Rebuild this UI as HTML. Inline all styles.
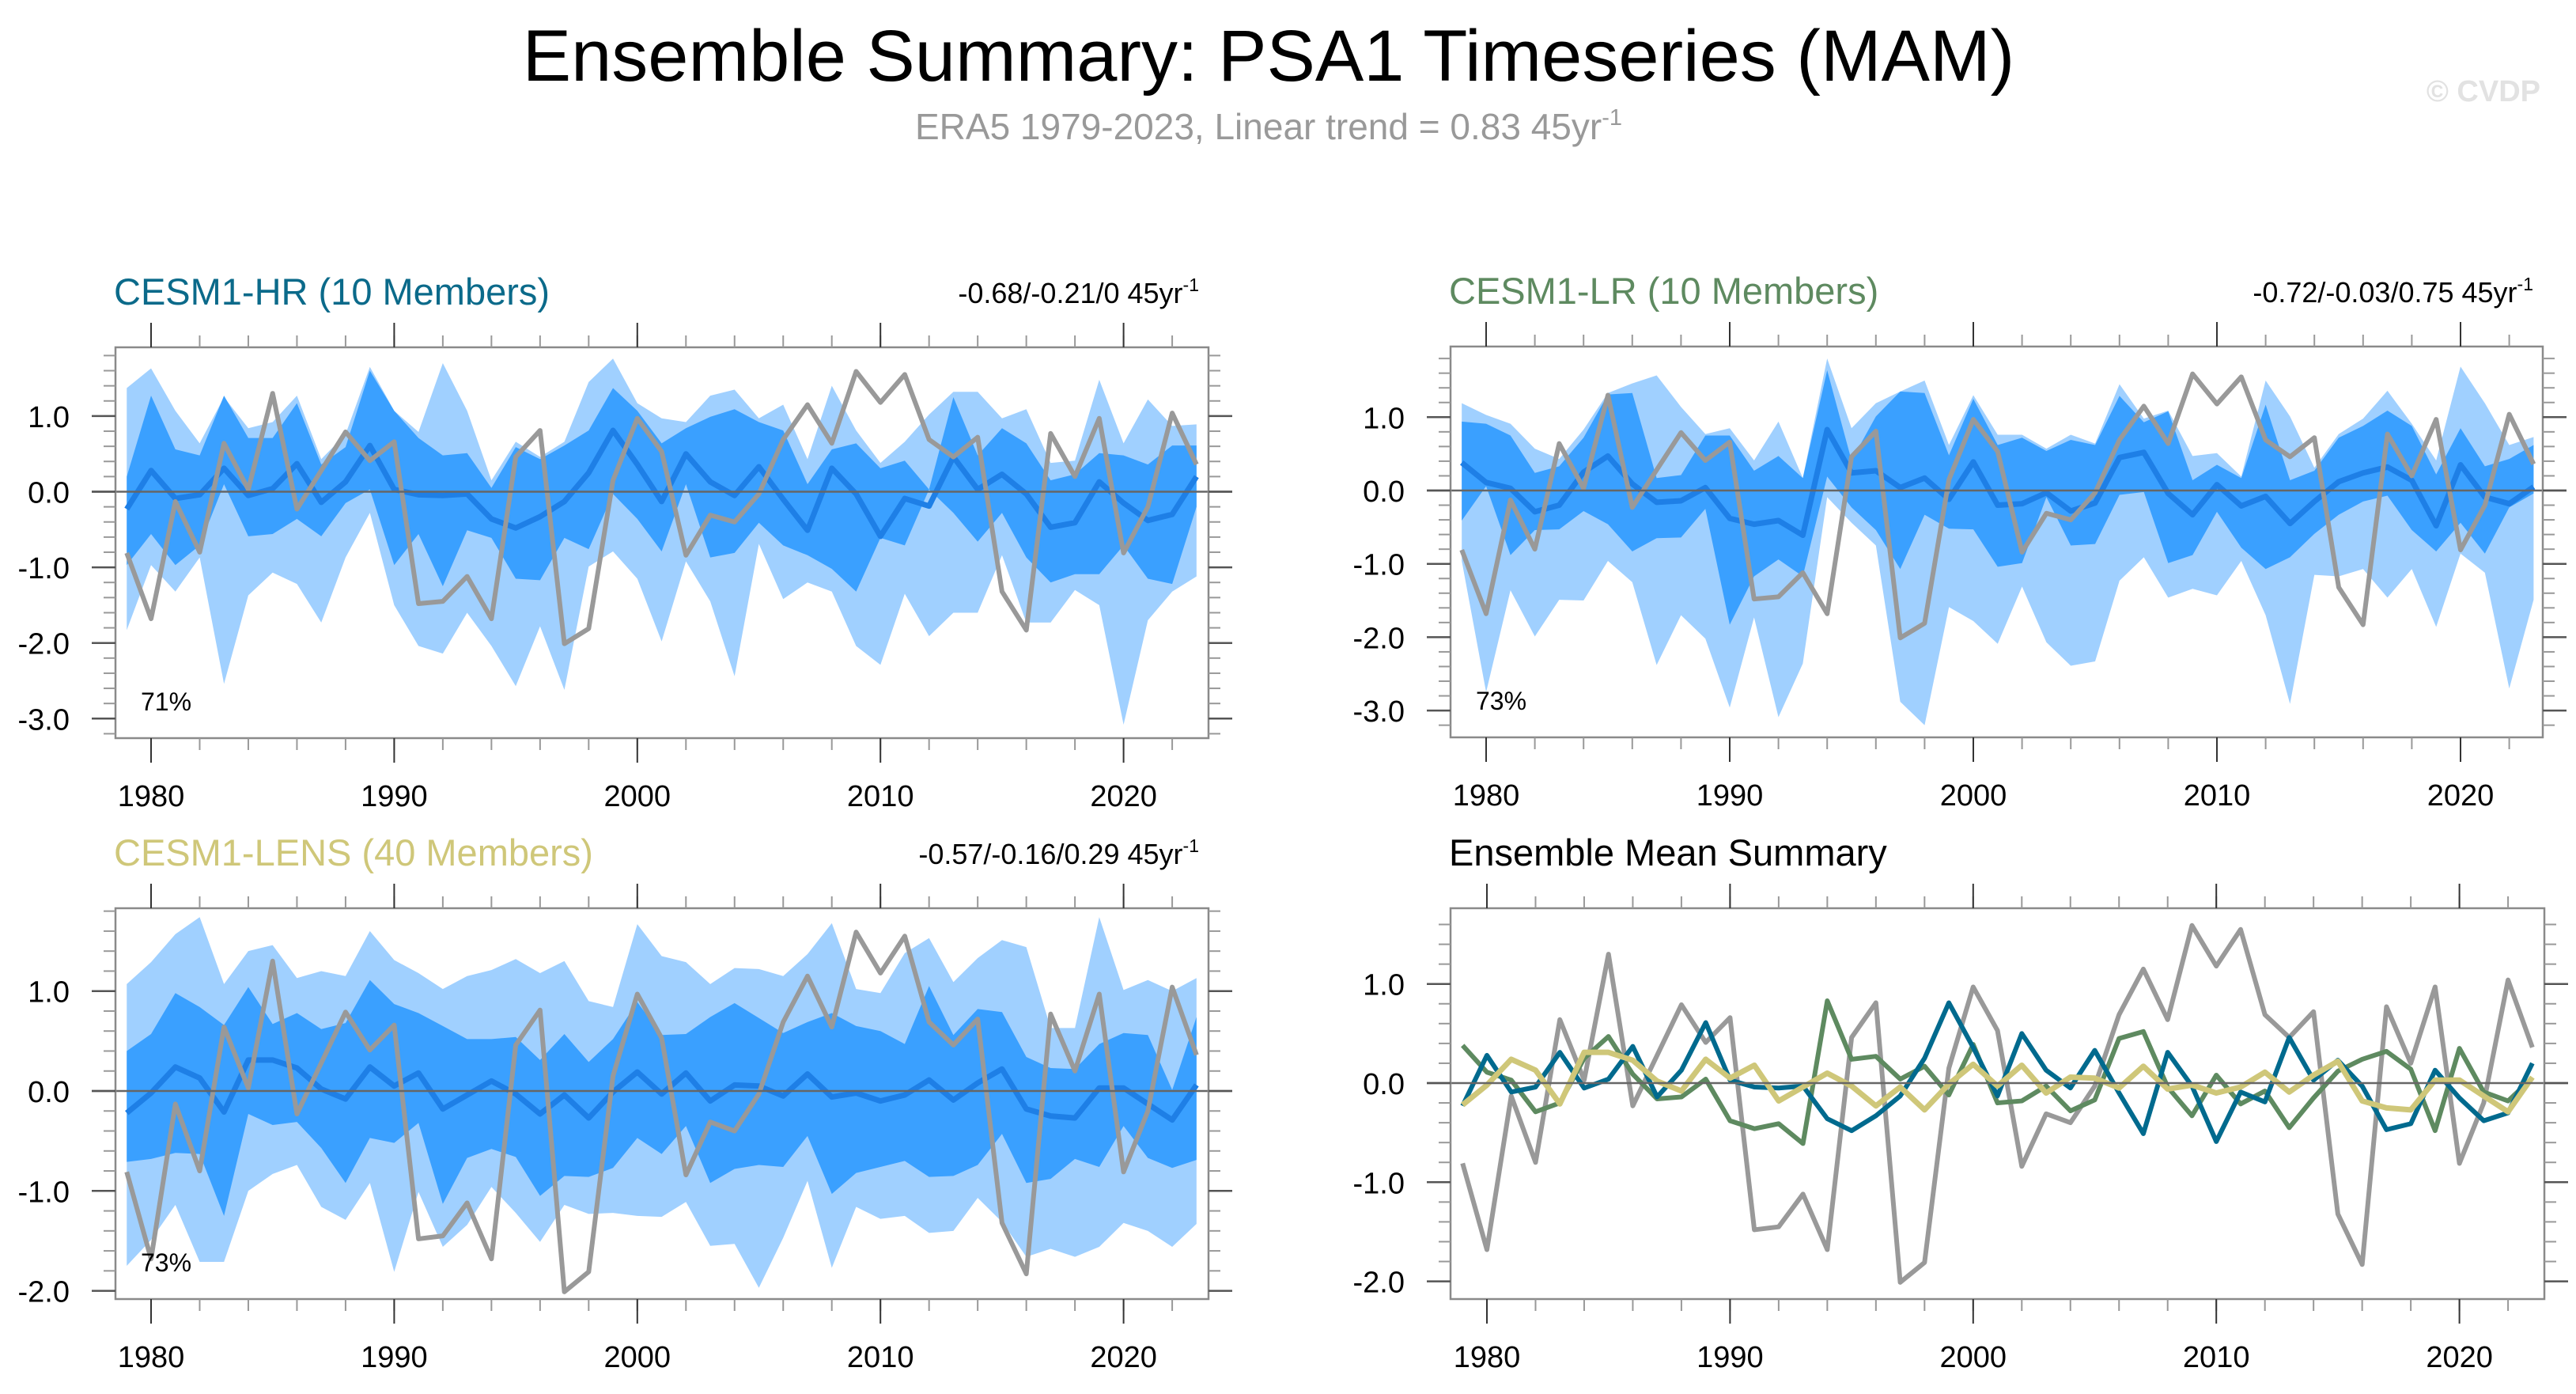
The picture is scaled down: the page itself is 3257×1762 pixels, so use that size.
<!DOCTYPE html>
<html><head><meta charset="utf-8"><style>
html,body{margin:0;padding:0;background:#fff;}
svg{display:block;font-family:"Liberation Sans",sans-serif;}
</style></head><body>
<svg id="chart" width="3257" height="1762" viewBox="0 0 3257 1762" xmlns="http://www.w3.org/2000/svg">
<text x="1604" y="102" font-size="92" text-anchor="middle" fill="#000">Ensemble Summary: PSA1 Timeseries (MAM)</text>
<text x="1604" y="176" font-size="46" text-anchor="middle" fill="#999">ERA5 1979-2023, Linear trend = 0.83 45yr<tspan dy="-18" font-size="29">-1</tspan></text>
<text x="3212" y="128" font-size="38" font-weight="bold" text-anchor="end" fill="#e2e2e2">© CVDP</text>
<g id="plots"></g>
</svg>
<script>
const years = [];
for (let y = 1979; y <= 2023; y++) years.push(y);
const era5 = [-0.81,-1.68,-0.13,-0.80,0.64,0.03,1.30,-0.23,0.28,0.79,0.41,0.66,-1.48,-1.45,-1.12,-1.68,0.46,0.81,-2.01,-1.81,0.15,0.97,0.53,-0.84,-0.31,-0.40,-0.03,0.69,1.15,0.64,1.59,1.18,1.55,0.69,0.46,0.72,-1.32,-1.83,0.77,0.20,0.97,-0.81,-0.20,1.04,0.36];

const hrMean = [-0.23,0.28,-0.09,-0.04,0.31,-0.05,0.04,0.37,-0.14,0.13,0.61,0.03,-0.04,-0.05,-0.03,-0.36,-0.48,-0.33,-0.13,0.25,0.81,0.36,-0.13,0.50,0.13,-0.05,0.33,-0.10,-0.51,0.31,-0.03,-0.59,-0.09,-0.19,0.46,0.03,0.23,-0.03,-0.47,-0.41,0.13,-0.15,-0.38,-0.30,0.20];
const hrOutTop = [1.37,1.63,1.07,0.64,1.25,0.84,0.92,1.27,0.43,0.76,1.65,1.07,0.79,1.70,1.07,0.15,0.66,0.46,0.66,1.45,1.76,1.17,0.97,0.92,1.27,1.35,0.97,1.15,0.43,1.40,0.81,0.38,0.66,1.02,1.32,1.32,0.97,1.09,0.38,0.41,1.48,0.64,1.22,0.87,0.89];
const hrOutBot = [-1.83,-0.97,-1.32,-0.87,-2.54,-1.37,-1.07,-1.22,-1.73,-0.87,-0.28,-1.50,-2.04,-2.14,-1.60,-2.04,-2.57,-1.78,-2.62,-0.99,-0.79,-1.15,-1.98,-0.92,-1.45,-2.44,-0.69,-1.42,-1.20,-1.32,-2.04,-2.29,-1.35,-1.91,-1.60,-1.60,-0.84,-1.73,-1.73,-1.30,-1.50,-3.08,-1.70,-1.32,-1.12];
const hrInTop = [0.20,1.27,0.56,0.48,1.27,0.71,0.71,1.17,0.36,0.59,1.60,1.07,0.71,0.48,0.51,0.05,0.59,0.43,0.61,0.81,1.37,1.07,0.64,0.84,0.99,1.09,0.92,0.81,0.10,0.56,0.64,0.31,0.41,0.03,1.25,0.48,0.84,0.64,0.15,0.23,0.51,0.48,0.36,0.61,0.61];
const hrInBot = [-0.97,-0.56,-0.97,-0.71,0.10,-0.59,-0.56,-0.36,-0.59,-0.15,0.03,-0.97,-0.56,-1.25,-0.51,-0.61,-1.15,-1.17,-0.61,-0.76,-0.03,-0.36,-0.79,0.10,-0.87,-0.81,-0.41,-0.71,-0.84,-1.02,-1.32,-0.61,-0.71,0.03,-0.28,-0.66,-0.28,-0.87,-1.20,-1.09,-1.09,-0.71,-1.15,-1.22,-0.20];

const lrMean = [0.38,0.11,0.03,-0.29,-0.20,0.25,0.47,0.09,-0.16,-0.14,0.04,-0.38,-0.46,-0.41,-0.61,0.83,0.24,0.27,0.04,0.17,-0.12,0.39,-0.20,-0.18,-0.03,-0.28,-0.17,0.45,0.52,-0.04,-0.33,0.08,-0.21,-0.08,-0.45,-0.15,0.12,0.24,0.32,0.14,-0.48,0.35,-0.09,-0.18,0.05];
const lrOutTop = [1.19,1.03,0.91,0.57,0.43,0.83,1.33,1.46,1.57,1.14,0.77,0.85,0.41,0.94,0.17,1.80,0.85,1.19,1.35,1.50,0.62,1.30,0.76,0.76,0.57,0.76,0.64,1.45,0.98,1.09,0.47,0.51,0.19,1.50,1.01,0.31,0.77,0.98,1.36,0.91,0.41,1.69,1.19,0.62,0.73];
const lrOutBot = [-0.96,-2.75,-1.36,-1.99,-1.49,-1.50,-0.96,-1.25,-2.38,-1.70,-2.02,-2.96,-1.73,-3.09,-2.36,-0.09,-0.44,-0.75,-2.88,-3.20,-1.59,-1.78,-2.09,-1.31,-2.07,-2.39,-2.33,-1.23,-0.91,-1.46,-1.34,-1.43,-0.96,-1.70,-2.91,-1.15,-1.17,-1.07,-1.46,-1.07,-1.86,-0.86,-1.12,-2.70,-1.49];
const lrInTop = [0.94,0.91,0.75,0.24,0.33,0.72,1.31,1.33,0.17,0.21,0.75,0.75,0.27,0.47,0.17,1.64,0.41,1.01,1.35,1.33,0.48,1.25,0.62,0.72,0.54,0.69,0.62,1.29,0.93,1.08,0.14,0.35,0.17,1.17,0.14,0.27,0.72,0.88,1.09,0.88,0.22,0.85,0.33,0.43,0.62];
const lrInBot = [-0.41,0.06,-0.88,-0.54,-0.53,-0.28,-0.46,-0.83,-0.65,-0.64,-0.25,-1.83,-1.17,-0.94,-1.17,0.19,-0.23,-0.54,-1.07,-0.33,-0.52,-0.53,-1.04,-0.99,-0.09,-0.75,-0.73,-0.06,-0.02,-0.99,-0.88,-0.29,-0.78,-1.07,-0.91,-0.59,-0.33,-0.15,-0.07,-0.54,-0.83,-0.44,-0.86,-0.23,-0.04];

const lensMean = [-0.22,-0.02,0.24,0.13,-0.21,0.31,0.31,0.23,0.02,-0.08,0.24,0.05,0.18,-0.18,-0.04,0.10,-0.03,-0.23,-0.04,-0.27,-0.01,0.19,-0.03,0.18,-0.10,0.06,0.05,-0.05,0.17,-0.06,-0.02,-0.10,-0.04,0.11,-0.09,0.08,0.22,-0.18,-0.25,-0.27,0.03,0.03,-0.13,-0.29,0.06];
const lensOutTop = [1.07,1.29,1.57,1.74,1.07,1.40,1.46,1.13,1.20,1.15,1.60,1.31,1.18,1.02,1.15,1.21,1.32,1.18,1.30,0.90,0.84,1.67,1.35,1.29,1.07,1.23,1.22,1.15,1.37,1.68,1.02,0.98,1.38,1.53,1.09,1.33,1.51,1.44,0.63,0.63,1.74,1.01,1.11,1.00,1.13];
const lensOutBot = [-1.75,-1.49,-1.14,-1.71,-1.71,-1.00,-0.83,-0.74,-1.16,-1.29,-0.92,-1.81,-1.01,-1.56,-1.34,-0.96,-1.22,-1.51,-1.14,-1.23,-1.22,-1.25,-1.26,-1.11,-1.55,-1.53,-1.97,-1.47,-0.90,-1.77,-1.16,-1.28,-1.25,-1.42,-1.40,-1.07,-1.31,-1.66,-1.58,-1.66,-1.56,-1.32,-1.40,-1.56,-1.33];
const lensInTop = [0.40,0.57,0.98,0.84,0.66,1.04,0.67,0.78,0.62,0.68,1.11,0.87,0.78,0.65,0.52,0.52,0.54,0.31,0.57,0.29,0.52,0.89,0.56,0.57,0.74,0.88,0.73,0.58,0.69,0.78,0.65,0.60,0.47,1.05,0.56,0.82,0.79,0.34,0.23,0.22,0.47,0.58,0.56,0.01,0.74];
const lensInBot = [-0.71,-0.68,-0.62,-0.63,-1.25,-0.23,-0.34,-0.31,-0.57,-0.92,-0.47,-0.52,-0.32,-1.13,-0.67,-0.58,-0.66,-1.05,-0.85,-0.86,-0.77,-0.47,-0.63,-0.35,-0.92,-0.78,-0.74,-0.76,-0.45,-1.03,-0.82,-0.76,-0.70,-0.86,-0.85,-0.74,-0.43,-0.92,-0.88,-0.68,-0.76,-0.35,-0.67,-0.77,-0.69];

const yTicks1 = [1.0, 0.0, -1.0, -2.0, -3.0];
const yTicks2 = [1.0, 0.0, -1.0, -2.0];
const xTicks = [1980, 1990, 2000, 2010, 2020];

const NS = 'http://www.w3.org/2000/svg';
const root = document.getElementById('plots');
function mk(tag, attrs, parent) {
  const e = document.createElementNS(NS, tag);
  for (const k in attrs) e.setAttribute(k, attrs[k]);
  (parent || root).appendChild(e);
  return e;
}

function panel(cfg) {
  const g = mk('g', {});
  
  
  const xs = yr => cfg.x1980 + (yr - 1980) * cfg.pxYear;
  const ys = v => cfg.y0 - v * cfg.pxUnit;
  const L = cfg.left, R = cfg.right, T = cfg.top, B = cfg.bottom;
  const vTop = (cfg.y0 - T) / cfg.pxUnit, vBot = (cfg.y0 - B) / cfg.pxUnit;

  const t = mk('text', {x: L - 2, y: T - 54, 'font-size': 47, fill: cfg.titleColor}, g);
  t.textContent = cfg.title;
  
  
  if (cfg.trend) {
    const tr = mk('text', {x: R - 12, y: T - 56, 'font-size': 36, 'text-anchor': 'end', fill: '#000'}, g);
    tr.textContent = cfg.trend + ' 45yr';
    const sp = mk('tspan', {dy: -15, 'font-size': 23}, tr);
    sp.textContent = '-1';
    
    
  }
  const cid = 'clip-' + cfg.name;
  const cp = mk('clipPath', {id: cid}, g);
  mk('rect', {x: L, y: T, width: R - L, height: B - T}, cp);
  const plot = mk('g', {'clip-path': 'url(#' + cid + ')'}, g);

  function band(top, bot, color, name) {
    let pts = years.map((yr, i) => xs(yr) + ',' + ys(top[i]));
    for (let i = years.length - 1; i >= 0; i--) pts.push(xs(years[i]) + ',' + ys(bot[i]));
    const p = mk('polygon', {points: pts.join(' '), fill: color}, plot);
    
    
  }
  function line(vals, color, w, name) {
    const pts = years.map((yr, i) => xs(yr) + ',' + ys(vals[i])).join(' ');
    const p = mk('polyline', {points: pts, fill: 'none', stroke: color, 'stroke-width': w, 'stroke-linejoin': 'round'}, plot);
    
    
  }
  if (cfg.bands) {
    band(cfg.bands.outTop, cfg.bands.outBot, '#a0d0ff', 'outer-spread-band');
    band(cfg.bands.inTop, cfg.bands.inBot, '#3aa0ff', 'inner-spread-band');
  }
  const z = mk('line', {x1: L - 30, x2: R + 30, y1: ys(0), y2: ys(0), stroke: '#666', 'stroke-width': 2.5}, g);
  
  
  cfg.lines.forEach(l => line(l.vals, l.color, l.w, l.name));

  const f = mk('rect', {x: L, y: T, width: R - L, height: B - T, fill: 'none', stroke: '#8a8a8a', 'stroke-width': 2.5}, g);
  
  

  for (let v = Math.ceil(vBot * 5) / 5; v <= vTop + 1e-6; v += 0.2) {
    const y = ys(v);
    mk('line', {x1: L - 15, x2: L, y1: y, y2: y, stroke: '#999', 'stroke-width': 2}, g);
    mk('line', {x1: R, x2: R + 15, y1: y, y2: y, stroke: '#999', 'stroke-width': 2}, g);
  }
  cfg.yTicks.forEach(v => {
    const y = ys(v);
    mk('line', {x1: L - 30, x2: L, y1: y, y2: y, stroke: '#555', 'stroke-width': 2.5}, g);
    mk('line', {x1: R, x2: R + 30, y1: y, y2: y, stroke: '#555', 'stroke-width': 2.5}, g);
    const lb = mk('text', {x: L - 58, y: y + 14, 'font-size': 38, 'text-anchor': 'end', fill: '#000'}, g);
    lb.textContent = v.toFixed(1);
    
    
  });
  for (let yr = 1978; yr <= 2023; yr += 2) {
    const x = xs(yr);
    if (x < L || x > R) continue;
    mk('line', {x1: x, x2: x, y1: T - 15, y2: T, stroke: '#999', 'stroke-width': 2}, g);
    mk('line', {x1: x, x2: x, y1: B, y2: B + 15, stroke: '#999', 'stroke-width': 2}, g);
  }
  xTicks.forEach(yr => {
    const x = xs(yr);
    mk('line', {x1: x, x2: x, y1: T - 31, y2: T, stroke: '#333', 'stroke-width': 2}, g);
    mk('line', {x1: x, x2: x, y1: B, y2: B + 31, stroke: '#333', 'stroke-width': 2}, g);
    const lb = mk('text', {x: x, y: B + 86, 'font-size': 38, 'text-anchor': 'middle', fill: '#000'}, g);
    lb.textContent = yr;
    
    
  });
  if (cfg.pct) {
    const p = mk('text', {x: L + 32, y: B - 35, 'font-size': 32, fill: '#000'}, g);
    p.textContent = cfg.pct;
    
    
  }
}

panel({name: 'cesm1-hr-panel', title: 'CESM1-HR (10 Members)', titleColor: '#0b6a8a', trend: '-0.68/-0.21/0',
  left: 146, right: 1528, top: 439, bottom: 933, x1980: 191, pxYear: 30.74, y0: 621.5, pxUnit: 95.6,
  yTicks: yTicks1, pct: '71%',
  bands: {outTop: hrOutTop, outBot: hrOutBot, inTop: hrInTop, inBot: hrInBot},
  lines: [{vals: hrMean, color: '#1e7fe6', w: 7, name: 'ensemble-mean-line'}, {vals: era5, color: '#999', w: 6, name: 'era5-line'}]});

panel({name: 'cesm1-lr-panel', title: 'CESM1-LR (10 Members)', titleColor: '#5e8a60', trend: '-0.72/-0.03/0.75',
  left: 1834, right: 3215, top: 438, bottom: 932, x1980: 1879, pxYear: 30.8, y0: 620, pxUnit: 92.7,
  yTicks: yTicks1, pct: '73%',
  bands: {outTop: lrOutTop, outBot: lrOutBot, inTop: lrInTop, inBot: lrInBot},
  lines: [{vals: lrMean, color: '#1e7fe6', w: 7, name: 'ensemble-mean-line'}, {vals: era5, color: '#999', w: 6, name: 'era5-line'}]});

panel({name: 'cesm1-lens-panel', title: 'CESM1-LENS (40 Members)', titleColor: '#cfc779', trend: '-0.57/-0.16/0.29',
  left: 146, right: 1528, top: 1148, bottom: 1642, x1980: 191, pxYear: 30.74, y0: 1379, pxUnit: 126.3,
  yTicks: yTicks2, pct: '73%',
  bands: {outTop: lensOutTop, outBot: lensOutBot, inTop: lensInTop, inBot: lensInBot},
  lines: [{vals: lensMean, color: '#1e7fe6', w: 7, name: 'ensemble-mean-line'}, {vals: era5, color: '#999', w: 6, name: 'era5-line'}]});

panel({name: 'ensemble-mean-summary-panel', title: 'Ensemble Mean Summary', titleColor: '#000', trend: null,
  left: 1834, right: 3217, top: 1148, bottom: 1642, x1980: 1880, pxYear: 30.74, y0: 1369, pxUnit: 125.3,
  yTicks: yTicks2, pct: null, bands: null,
  lines: [{vals: era5, color: '#999', w: 6, name: 'era5-line'},
          {vals: lrMean, color: '#5e8a60', w: 6, name: 'cesm1-lr-mean-line'},
          {vals: hrMean, color: '#006a8e', w: 6, name: 'cesm1-hr-mean-line'},
          {vals: lensMean, color: '#cfc779', w: 7, name: 'cesm1-lens-mean-line'}]});
</script>
</body></html>
